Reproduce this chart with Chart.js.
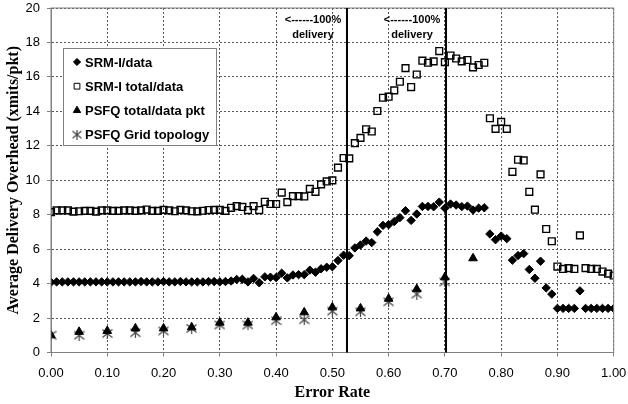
<!DOCTYPE html>
<html>
<head>
<meta charset="utf-8">
<script src="https://cdn.jsdelivr.net/npm/chart.js@4.4.1/dist/chart.umd.min.js"></script>
<style>
  body { margin: 0; background: #fff; }
  #wrap { width: 628px; height: 404px; }
</style>
</head>
<body>
<div id="wrap"><canvas id="myChart" width="628" height="404"></canvas></div>
<script>
// error rate 0.00 .. 1.00
const errorRate = [
  0.00, 0.01, 0.02, 0.03, 0.04, 0.05, 0.06, 0.07, 0.08, 0.09,
  0.10, 0.11, 0.12, 0.13, 0.14, 0.15, 0.16, 0.17, 0.18, 0.19,
  0.20, 0.21, 0.22, 0.23, 0.24, 0.25, 0.26, 0.27, 0.28, 0.29,
  0.30, 0.31, 0.32, 0.33, 0.34, 0.35, 0.36, 0.37, 0.38, 0.39,
  0.40, 0.41, 0.42, 0.43, 0.44, 0.45, 0.46, 0.47, 0.48, 0.49,
  0.50, 0.51, 0.52, 0.53, 0.54, 0.55, 0.56, 0.57, 0.58, 0.59,
  0.60, 0.61, 0.62, 0.63, 0.64, 0.65, 0.66, 0.67, 0.68, 0.69,
  0.70, 0.71, 0.72, 0.73, 0.74, 0.75, 0.76, 0.77, 0.78, 0.79,
  0.80, 0.81, 0.82, 0.83, 0.84, 0.85, 0.86, 0.87, 0.88, 0.89,
  0.90, 0.91, 0.92, 0.93, 0.94, 0.95, 0.96, 0.97, 0.98, 0.99,
  1.00
];

const srmData = [
  4.08, 4.1, 4.1, 4.1, 4.1, 4.1, 4.1, 4.1, 4.1, 4.1,
  4.1, 4.1, 4.1, 4.1, 4.1, 4.1, 4.12, 4.1, 4.1, 4.1,
  4.12, 4.1, 4.1, 4.12, 4.1, 4.1, 4.1, 4.1, 4.12, 4.12,
  4.1, 4.12, 4.15, 4.24, 4.25, 4.1, 4.3, 4.05, 4.39, 4.37,
  4.35, 4.6, 4.33, 4.5, 4.52, 4.52, 4.78, 4.66, 4.86, 4.95,
  4.98, 5.34, 5.65, 5.62, 6.07, 6.24, 6.47, 6.38, 7.01, 7.38,
  7.42, 7.6, 7.83, 8.23, 7.67, 8.04, 8.48, 8.48, 8.46, 8.73,
  8.38, 8.62, 8.56, 8.47, 8.5, 8.27, 8.38, 8.4, 6.88, 6.55,
  6.76, 6.61, 5.36, 5.63, 5.74, 4.82, 4.31, 5.3, 3.75, 3.39,
  2.56, 2.56, 2.56, 2.56, 3.58, 2.56, 2.56, 2.56, 2.56, 2.56,
  2.56
];

const srmTotal = [
  8.15, 8.25, 8.25, 8.25, 8.18, 8.2, 8.22, 8.22, 8.18, 8.25,
  8.25, 8.22, 8.22, 8.25, 8.25, 8.22, 8.25, 8.3, 8.22, 8.22,
  8.28, 8.25, 8.2, 8.28, 8.25, 8.2, 8.19, 8.23, 8.27, 8.28,
  8.28, 8.22, 8.4, 8.5, 8.45, 8.27, 8.5, 8.27, 8.75, 8.62,
  8.62, 9.28, 8.73, 9.08, 9.08, 9.06, 9.5, 9.33, 9.76, 9.93,
  9.99, 10.73, 11.29, 11.27, 12.15, 12.46, 12.96, 12.83, 14.02, 14.79,
  14.85, 15.22, 15.72, 16.51, 15.41, 16.14, 16.94, 16.82, 16.9, 17.5,
  16.86, 17.24, 17.07, 16.9, 16.98, 16.55, 16.69, 16.82, 13.6, 12.98,
  13.39, 12.98, 10.49, 11.19, 11.15, 9.33, 8.29, 10.34, 7.17, 6.46,
  4.99, 4.85, 4.9, 4.85, 6.8, 4.9, 4.85, 4.85, 4.7, 4.58,
  4.47
];

const psfqRate = [0.00, 0.05, 0.10, 0.15, 0.20, 0.25, 0.30, 0.35, 0.40, 0.45, 0.50, 0.55, 0.60, 0.65, 0.70, 0.75];
const psfqTotal = [1.0, 1.2, 1.25, 1.4, 1.4, 1.46, 1.73, 1.73, 2.04, 2.33, 2.62, 2.56, 3.12, 3.68, 4.37, 5.47];

const gridRate = [0.00, 0.05, 0.10, 0.15, 0.20, 0.25, 0.30, 0.35, 0.40, 0.45, 0.50, 0.55, 0.60, 0.65, 0.70];
const psfqGrid = [1.0, 1.0, 1.1, 1.15, 1.25, 1.4, 1.6, 1.6, 1.85, 1.9, 2.4, 2.36, 2.94, 3.39, 4.1];

const seriesNames = ['SRM-I/data', 'SRM-I total/data', 'PSFQ total/data pkt', 'PSFQ Grid topology'];

// 100% delivery markers
const deliveryLines = [0.526, 0.702];
const noteText = ['<------100%', 'delivery'];

const sans = "'Liberation Sans', Arial, sans-serif";
const serif = "'Liberation Serif', 'Times New Roman', serif";

// six-arm asterisk marker
function makeStar(size, color) {
    const c = document.createElement('canvas');
    c.width = size; c.height = size;
    const g = c.getContext('2d');
    g.strokeStyle = color;
    g.lineWidth = 1.2;
    g.beginPath();
    g.moveTo(0.5, 1.5); g.lineTo(size - 0.5, size - 1.5);
    g.moveTo(size - 0.5, 1.5); g.lineTo(0.5, size - 1.5);
    g.moveTo(size / 2, 0); g.lineTo(size / 2, size);
    g.stroke();
    return c;
}
const starImg = makeStar(11, '#444');
const starSmall = makeStar(10, '#444');

function pairs(xs, ys) {
    return xs.map((x, i) => ({ x: x, y: ys[i] }));
}

const markers = [
    { pointStyle: 'rectRot', radius: 4.2, fill: '#000', stroke: '#000', width: 1 },
    { pointStyle: 'rect', radius: 4.8, fill: 'rgba(0,0,0,0)', stroke: '#000', width: 1.4 },
    { pointStyle: 'triangle', radius: 5, fill: '#000', stroke: '#000', width: 1 },
    { pointStyle: starImg, radius: 5, fill: '#444', stroke: '#444', width: 1 }
];

const overlay = {
    id: 'overlay',
    afterDraw(chart) {
        const ctx = chart.ctx;
        const area = chart.chartArea;
        const xs = chart.scales.x;
        ctx.save();
        // plot frame
        ctx.strokeStyle = '#808080';
        ctx.lineWidth = 1;
        ctx.strokeRect(area.left, area.top, area.right - area.left, area.bottom - area.top);

        // delivery lines + notes
        ctx.strokeStyle = '#000';
        ctx.lineWidth = 2;
        ctx.fillStyle = '#000';
        ctx.font = 'bold 11px ' + sans;
        ctx.textAlign = 'center';
        ctx.textBaseline = 'middle';
        deliveryLines.forEach(v => {
            const px = xs.getPixelForValue(v);
            ctx.beginPath();
            ctx.moveTo(px, area.top);
            ctx.lineTo(px, area.bottom);
            ctx.stroke();
            ctx.fillText(noteText[0], px - 34, 20);
            ctx.fillText(noteText[1], px - 34, 35);
        });

        // legend box
        ctx.lineWidth = 1;
        ctx.fillStyle = '#fff';
        ctx.strokeStyle = '#808080';
        ctx.fillRect(63, 48, 153, 97);
        ctx.strokeRect(63.5, 48.5, 153, 97);
        ctx.font = 'bold 13px ' + sans;
        ctx.textAlign = 'left';
        seriesNames.forEach((name, i) => {
            const y = 62 + i * 24.2;
            const m = markers[i];
            ctx.fillStyle = m.fill;
            ctx.strokeStyle = m.stroke;
            ctx.lineWidth = 1;
            Chart.helpers.drawPoint(ctx, {
                pointStyle: i === 3 ? starSmall : m.pointStyle,
                radius: m.radius * 0.85,
                rotation: 0,
                borderWidth: 1
            }, 77, y);
            ctx.fillStyle = '#000';
            ctx.fillText(name, 85, y + 1);
        });
        ctx.restore();
    }
};

const seriesData = [
    pairs(errorRate, srmData),
    pairs(errorRate, srmTotal),
    pairs(psfqRate, psfqTotal),
    pairs(gridRate, psfqGrid)
];

new Chart('myChart', {
    type: 'scatter',
    data: {
        datasets: seriesNames.map((name, i) => ({
            label: name,
            data: seriesData[i],
            showLine: false,
            pointStyle: markers[i].pointStyle,
            pointRadius: markers[i].radius,
            pointHoverRadius: markers[i].radius,
            pointBackgroundColor: markers[i].fill,
            pointBorderColor: markers[i].stroke,
            pointBorderWidth: markers[i].width
        }))
    },
    options: {
        responsive: false,
        animation: false,
        events: [],
        layout: { padding: { left: 0, right: 14.3, top: 8, bottom: 0 } },
        plugins: {
            legend: { display: false },
            tooltip: { enabled: false }
        },
        scales: {
            x: {
                type: 'linear',
                min: 0,
                max: 1,
                afterFit: (s) => { s.height = 51.5; s.paddingLeft = 0; s.paddingRight = 0; },
                ticks: {
                    stepSize: 0.1,
                    padding: 9,
                    color: '#000',
                    font: { family: sans, size: 13 },
                    maxRotation: 0,
                    callback: (v) => v.toFixed(2)
                },
                grid: {
                    color: '#555',
                    tickLength: 4,
                    tickColor: '#808080',
                    tickBorderDash: []
                },
                border: { color: '#808080', dash: [2, 2] },
                title: {
                    display: true,
                    text: 'Error Rate',
                    color: '#000',
                    font: { family: serif, size: 16, weight: 'bold' },
                    padding: { top: 0, bottom: 2 }
                }
            },
            y: {
                min: 0,
                max: 20,
                afterFit: (s) => { s.width = 51; s.paddingTop = 0; s.paddingBottom = 0; },
                ticks: {
                    stepSize: 2,
                    padding: 7,
                    color: '#000',
                    font: { family: sans, size: 13 }
                },
                grid: {
                    color: '#555',
                    tickLength: 4,
                    tickColor: '#808080',
                    tickBorderDash: []
                },
                border: { color: '#808080', dash: [2, 2] },
                title: {
                    display: true,
                    text: 'Average Delivery Overhead (xmits/pkt)',
                    color: '#000',
                    font: { family: serif, size: 16, weight: 'bold' },
                    padding: { top: 4, bottom: 0 }
                }
            }
        }
    },
    plugins: [overlay]
});
</script>
</body>
</html>
